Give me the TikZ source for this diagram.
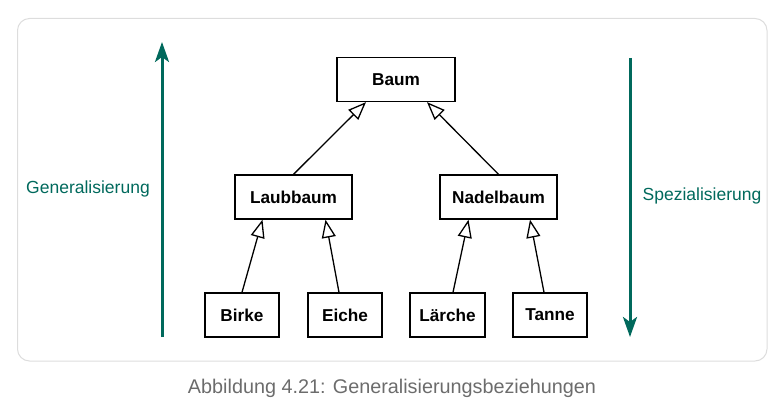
\documentclass[tikz,border=0pt]{standalone}
\usepackage{fontspec}
\setmainfont{Liberation Sans}
\usetikzlibrary{arrows.meta}
\definecolor{tealc}{HTML}{00695C}
\definecolor{framec}{HTML}{DDDDDD}
\definecolor{capc}{HTML}{6C6C6C}
\tikzset{
  cls/.style={draw=black, line width=1.3pt, fill=white, minimum height=44pt, inner sep=0pt,
    font=\fontsize{17.2}{19}\selectfont\bfseries},
  gen/.style={draw=black, line width=1.3pt, -{Triangle[open, length=18pt, width=14pt, fill=white]}},
  dirarrow/.style={draw=tealc, line width=3pt, -{Stealth[length=20pt, width=14pt, inset=5pt]}},
  sidelabel/.style={text=tealc, font=\fontsize{17.5}{19}\selectfont},
}
\begin{document}
\begin{tikzpicture}[x=1pt, y=-1pt]
\useasboundingbox (0,0) rectangle (784,409);
\draw[framec, line width=1pt, rounded corners=12pt] (17.5,18.5) rectangle (767,361);

\node[cls, minimum width=118pt] (baum) at (396,79.5) {Baum};
\node[cls, minimum width=117pt] (laub) at (293.5,197) {Laubbaum};
\node[cls, minimum width=117pt] (nadel) at (498.5,197) {Nadelbaum};
\node[cls, minimum width=74pt] (birke) at (242,315) {Birke};
\node[cls, minimum width=74pt] (eiche) at (345,315) {Eiche};
\node[cls, minimum width=75pt] (laerche) at (447.5,315) {Lärche};
\node[cls, minimum width=74pt] (tanne) at (550,315) {Tanne};

\draw[gen] (laub.north) -- ([xshift=-30pt]baum.south);
\draw[gen] (nadel.north) -- ([xshift=31pt]baum.south);
\draw[gen] (birke.north) -- ([xshift=-31pt]laub.south);
\draw[gen] ([xshift=-6pt]eiche.north) -- ([xshift=32pt]laub.south);
\draw[gen] ([xshift=5.5pt]laerche.north) -- ([xshift=-30pt]nadel.south);
\draw[gen] ([xshift=-6pt]tanne.north) -- ([xshift=31.5pt]nadel.south);

\coordinate (gbot) at (162,337);
\coordinate (gtop) at (162,42);
\coordinate (stop) at (630,58);
\coordinate (sbot) at (630,337);
\draw[dirarrow] (gbot) -- (gtop);
\draw[dirarrow] (stop) -- (sbot);

\node[sidelabel] (genlab) at (88,189) {Generalisierung};
\node[sidelabel] (spezlab) at (702,196) {Spezialisierung};

\node[text=capc, font=\fontsize{19.8}{22}\selectfont] (cap) at (392,388) {Abbildung 4.21: Generalisierungsbeziehungen};
\end{tikzpicture}
\end{document}
